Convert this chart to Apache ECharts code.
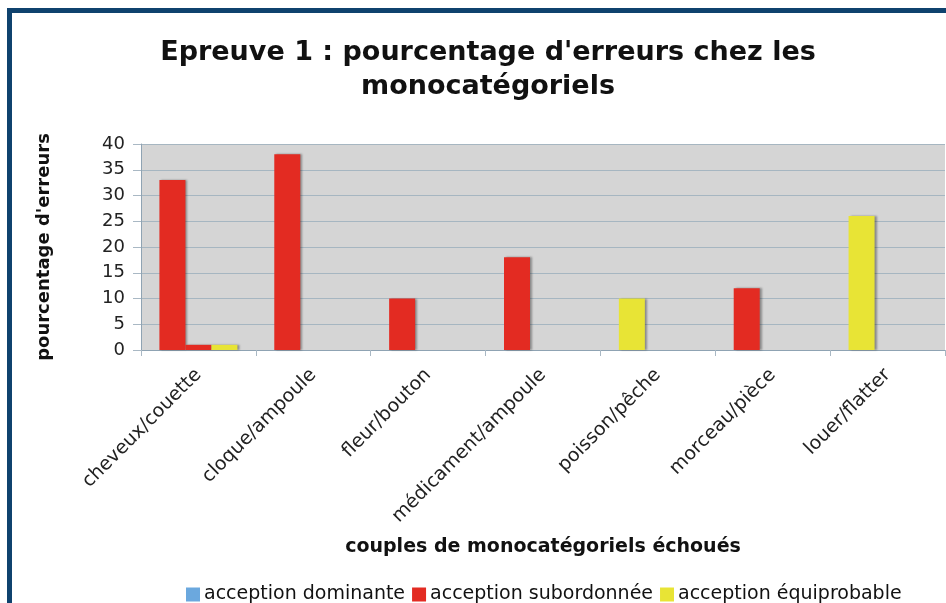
<!DOCTYPE html>
<html lang="fr">
  <head>
    <meta charset="UTF-8" />
    <title>Epreuve 1</title>
    <script src="https://cdn.jsdelivr.net/npm/echarts@6/dist/echarts.min.js"></script>
    <style>
      body { margin: 0; background: #fff; }
      #frame {
        position: absolute; left: 7px; top: 8px; right: 0; bottom: 0;
        border-left: 5px solid #0f426e; border-top: 5px solid #0f426e;
        pointer-events: none; z-index: 2;
      }
    </style>
  </head>
  <body>
    <div id="main" style="width: 946px; height: 603px"></div>
    <div id="frame"></div>
    <script type="text/javascript">
      const categories = [
        "cheveux/couette", "cloque/ampoule", "fleur/bouton", "médicament/ampoule",
        "poisson/pêche", "morceau/pièce", "louer/flatter",
      ];
      const legendNames = ["acception dominante", "acception subordonnée", "acception équiprobable"];
      // first bar of each group, coloured by the kind of acception
      const firstBar = [33, 38, 10, 18, 10, 12, 26];
      const firstBarKind = [1, 1, 1, 1, 2, 1, 2];
      const secondBar = [1, 0, 0, 0, 0, 0, 0];
      const thirdBar = [1, 0, 0, 0, 0, 0, 0];
      const yTicks = [0, 5, 10, 15, 20, 25, 30, 35, 40];

      const colors = ["#6ba8de", "#e32b22", "#e8e435"];
      const font = "DejaVu Sans";
      const barStyle = {
        shadowColor: "rgba(0,0,0,0.35)",
        shadowOffsetX: 2,
        shadowBlur: 2,
      };

      let myChart = echarts.init(document.getElementById("main"));
      let options = {
        animation: false,
        backgroundColor: "#fff",
        color: colors,
        title: {
          text: "Epreuve 1 : pourcentage d'erreurs chez les\nmonocatégoriels",
          left: 483,
          textAlign: "center",
          top: 31,
          textStyle: {
            fontFamily: font, fontWeight: "bold", fontSize: 27,
            lineHeight: 34, color: "#111",
          },
        },
        legend: {
          data: legendNames,
          left: 181,
          top: 580,
          itemWidth: 14,
          itemHeight: 14,
          itemGap: 7,
          icon: "rect",
          textStyle: { fontFamily: font, fontSize: 19, color: "#111", padding: [0, 0, 0, -1] },
        },
        grid: { left: 141, right: 1, top: 144, bottom: 253 },
        xAxis: {
          type: "category",
          data: categories,
          name: "couples de monocatégoriels échoués",
          nameLocation: "middle",
          nameGap: 188,
          nameTextStyle: { fontFamily: font, fontWeight: "bold", fontSize: 19, color: "#111" },
          axisLine: { lineStyle: { color: "#8fa3b3" } },
          axisTick: { show: true, length: 6, lineStyle: { color: "#a9b8c4" } },
          axisLabel: { rotate: 45, margin: 22, fontFamily: font, fontSize: 19, color: "#222" },
        },
        yAxis: {
          type: "value",
          min: yTicks[0],
          max: yTicks[yTicks.length - 1],
          interval: 5,
          name: "pourcentage d'erreurs",
          nameLocation: "middle",
          nameGap: 88,
          nameTextStyle: { fontFamily: font, fontWeight: "bold", fontSize: 18, color: "#111" },
          axisLine: { show: true, lineStyle: { color: "#8fa3b3" } },
          axisTick: { show: true, length: 8, lineStyle: { color: "#a9b8c4" } },
          axisLabel: { margin: 16, fontFamily: font, fontSize: 18, color: "#222" },
          splitLine: { lineStyle: { color: "#a6b6c1", width: 1 } },
          splitArea: { show: true, areaStyle: { color: ["#d5d5d5", "#d5d5d5"] } },
        },
        series: [
          {
            name: legendNames[0],
            type: "bar",
            barWidth: 26,
            barGap: "0%",
            itemStyle: barStyle,
            data: firstBar.map((v, i) => ({ value: v, itemStyle: { color: colors[firstBarKind[i]] } })),
          },
          { name: legendNames[1], type: "bar", barWidth: 26, barGap: "0%", itemStyle: barStyle, data: secondBar },
          { name: legendNames[2], type: "bar", barWidth: 26, barGap: "0%", itemStyle: barStyle, data: thirdBar },
        ],
      };
      myChart.setOption(options);
    </script>
  </body>
</html>
